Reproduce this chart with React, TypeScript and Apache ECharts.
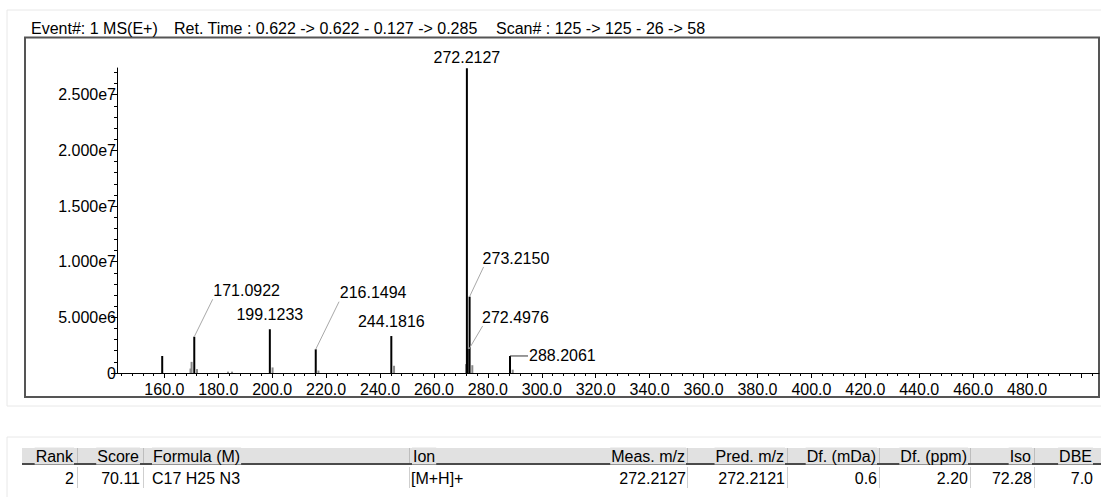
import React, { useEffect, useRef } from 'react';
import * as echarts from 'echarts';

// ---------- data ----------
const headerParts = [
  'Event#: 1 MS(E+)',
  'Ret. Time : 0.622 -> 0.622 - 0.127 -> 0.285',
  'Scan# : 125 -> 125 - 26 -> 58',
];

// main sticks (m/z, intensity)
const peakMz = [159.2, 171.0922, 199.1233, 216.1494, 244.1816, 272.2127, 273.215, 272.4976, 288.2061];
const peakIntensity = [1.53e6, 3.26e6, 3.93e6, 2.13e6, 3.32e6, 2.738e7, 6.86e6, 2.16e6, 1.53e6];

// small satellite sticks
const minorMz = [169.7, 170.1, 172.1, 183.6, 185.1, 200.13, 217.15, 245.19, 271.9, 274.22, 289.21];
const minorIntensity = [0.4e6, 1.0e6, 0.35e6, 0.12e6, 0.12e6, 0.5e6, 0.22e6, 0.65e6, 0.8e6, 0.7e6, 0.3e6];

// labelled peaks
const labeledMz = [171.0922, 199.1233, 216.1494, 244.1816, 272.2127, 273.215, 272.4976, 288.2061];

// axis ticks / labels
const xLabelValues = [160, 180, 200, 220, 240, 260, 280, 300, 320, 340, 360, 380, 400, 420, 440, 460, 480];
const xMajorTickValues = [...xLabelValues, 500];
const yLabelValues = [0, 5e6, 1e7, 1.5e7, 2e7, 2.5e7];

// results table
const tableHeaders = ['Rank', 'Score', 'Formula (M)', 'Ion', 'Meas. m/z', 'Pred. m/z', 'Df. (mDa)', 'Df. (ppm)', 'Iso', 'DBE'];
const tableRow = ['2', '70.11', 'C17 H25 N3', '[M+H]+', '272.2127', '272.2121', '0.6', '2.20', '72.28', '7.0'];

// ---------- layout / style ----------
const FONT = '"Liberation Sans", Arial, sans-serif';
const X_MIN = 142.43;
const X_MAX = 506.68;
const Y_MAX = 2.74e7;

const xMinorTickValues: number[] = [];
for (let v = 144; v <= 504; v += 4) xMinorTickValues.push(v);
const yMinorTickValues: number[] = [];
for (let v = 1e6; v <= 2.7e7; v += 1e6) yMinorTickValues.push(v);

type LabelLayout = { dx: number; dy: number; align: string; line?: number[]; lineColor?: string };
const labelLayout: LabelLayout[] = [
  { dx: 19, dy: -46.7, align: 'left', line: [0, 0, 18.4, -37.4] },
  { dx: 0, dy: -14.3, align: 'center' },
  { dx: 24, dy: -56.6, align: 'left', line: [0, 0, 23.3, -47.6] },
  { dx: 0, dy: -14.3, align: 'center' },
  { dx: 0, dy: -11, align: 'center' },
  { dx: 13, dy: -37.7, align: 'left', line: [0, 0, 14, -29.7] },
  { dx: 14.4, dy: -31, align: 'left', line: [1.4, 0, 15, -23] },
  { dx: 19, dy: 0, align: 'left', line: [0, 0, 18, 0], lineColor: '#333' },
];

const colText = [
  { x: 74, align: 'right' },
  { x: 140, align: 'right' },
  { x: 152, align: 'left' },
  { x: 412, align: 'left' },
  { x: 686, align: 'right' },
  { x: 785, align: 'right' },
  { x: 877, align: 'right' },
  { x: 968, align: 'right' },
  { x: 1032, align: 'right' },
  { x: 1093, align: 'right' },
];
const colSeparators = [77, 143, 409, 687, 787, 879, 970, 1034];

function txt(text: string, x: number, y: number, align: string, extra: any = {}) {
  return {
    type: 'text',
    style: {
      text,
      x,
      y,
      fill: '#000',
      font: `16px ${FONT}`,
      fontSize: 16,
      fontFamily: FONT,
      align,
      textAlign: align,
      verticalAlign: 'middle',
      textVerticalAlign: 'middle',
      ...extra,
    },
  };
}

export default function App() {
  const ref = useRef<HTMLDivElement>(null);

  useEffect(() => {
    document.body.style.margin = '0';
    if (!ref.current) return;
    const chart = echarts.init(ref.current, undefined, { renderer: 'svg' });

    const mainData = peakMz.map((m, i) => [m, peakIntensity[i]]);
    const minorData = minorMz.map((m, i) => [m, minorIntensity[i]]);
    const labelData = labeledMz.map((m, i) => [m, peakIntensity[peakMz.indexOf(m)], i]);

    const stick = (color: string, width: number) => (params: any, api: any) => {
      const x = api.value(0);
      const y = api.value(1);
      const p0 = api.coord([x, 0]);
      const p1 = api.coord([x, y]);
      return {
        type: 'line',
        shape: { x1: p0[0], y1: p0[1], x2: p1[0], y2: p1[1] },
        style: { stroke: color, lineWidth: width },
      };
    };

    const graphics: any[] = [];
    // outer panels
    graphics.push({ type: 'rect', shape: { x: 7, y: 10, width: 1100, height: 396 }, style: { fill: 'none', stroke: '#e8e8e8', lineWidth: 1 } });
    graphics.push({ type: 'line', shape: { x1: 7, y1: 437, x2: 1101, y2: 437 }, style: { stroke: '#e8e8e8', lineWidth: 1 } });
    graphics.push({ type: 'line', shape: { x1: 7, y1: 437, x2: 7, y2: 497 }, style: { stroke: '#e8e8e8', lineWidth: 1 } });
    // chart frame
    graphics.push({ type: 'rect', shape: { x: 25, y: 37.5, width: 1074, height: 359.5 }, style: { fill: 'none', stroke: '#555', lineWidth: 2 } });
    // header
    const headerX = [31, 174, 496];
    headerParts.forEach((h, i) => graphics.push(txt(h, headerX[i], 28, 'left')));

    // table header band
    graphics.push({ type: 'rect', shape: { x: 22, y: 448, width: 1079, height: 15 }, style: { fill: '#e1e1e1' } });
    graphics.push({ type: 'line', shape: { x1: 22, y1: 464, x2: 1101, y2: 464 }, style: { stroke: '#4a4a4a', lineWidth: 2 } });
    colSeparators.forEach((x) => {
      graphics.push({ type: 'line', shape: { x1: x + 0.5, y1: 448, x2: x + 0.5, y2: 463 }, style: { stroke: '#bdbdbd', lineWidth: 1 } });
      graphics.push({ type: 'line', shape: { x1: x + 0.5, y1: 467, x2: x + 0.5, y2: 488 }, style: { stroke: '#cfcfcf', lineWidth: 1 } });
    });
    tableHeaders.forEach((h, i) =>
      graphics.push(
        txt(h, colText[i].x, 456, colText[i].align, {
          backgroundColor: '#e1e1e1',
          padding: [0, 1, 1, 1],
          lineHeight: 16,
        })
      )
    );
    tableRow.forEach((v, i) => graphics.push(txt(v, i === 3 ? 411 : colText[i].x, 478, colText[i].align)));

    const option: any = {
      animation: false,
      grid: { left: 117, right: 2, top: 68, bottom: 124, containLabel: false },
      xAxis: [
        {
          type: 'value',
          min: X_MIN,
          max: X_MAX,
          position: 'bottom',
          axisLine: { show: true, onZero: false, lineStyle: { color: '#000', width: 1 } },
          axisTick: { show: true, customValues: xMajorTickValues, length: 5, lineStyle: { color: '#000' } },
          axisLabel: {
            show: true,
            customValues: xLabelValues,
            formatter: (v: number) => v.toFixed(1),
            fontSize: 16,
            fontFamily: FONT,
            color: '#000',
            margin: 8,
          },
          splitLine: { show: false },
        },
        {
          type: 'value',
          min: X_MIN,
          max: X_MAX,
          position: 'bottom',
          axisLine: { show: false },
          axisTick: { show: true, customValues: xMinorTickValues, length: 3, lineStyle: { color: '#000' } },
          axisLabel: { show: false },
          splitLine: { show: false },
        },
      ],
      yAxis: [
        {
          type: 'value',
          min: 0,
          max: Y_MAX,
          position: 'left',
          axisLine: { show: true, onZero: false, lineStyle: { color: '#000', width: 1 } },
          axisTick: { show: true, customValues: yLabelValues, length: 6, lineStyle: { color: '#000' } },
          axisLabel: {
            show: true,
            customValues: yLabelValues,
            formatter: (v: number) => (v === 0 ? '0' : v.toExponential(3).replace('e+', 'e')),
            fontSize: 16,
            fontFamily: FONT,
            color: '#000',
            margin: 1,
          },
          splitLine: { show: false },
        },
        {
          type: 'value',
          min: 0,
          max: Y_MAX,
          position: 'left',
          axisLine: { show: false },
          axisTick: { show: true, customValues: yMinorTickValues, length: 3, lineStyle: { color: '#000' } },
          axisLabel: { show: false },
          splitLine: { show: false },
        },
      ],
      series: [
        {
          type: 'custom',
          name: 'minor',
          clip: false,
          xAxisIndex: 0,
          yAxisIndex: 0,
          data: minorData,
          renderItem: stick('#8a8a8a', 2),
        },
        {
          type: 'custom',
          name: 'peaks',
          clip: false,
          xAxisIndex: 0,
          yAxisIndex: 0,
          data: mainData,
          renderItem: stick('#000', 2),
        },
        {
          type: 'custom',
          name: 'labels',
          clip: false,
          xAxisIndex: 0,
          yAxisIndex: 0,
          data: labelData,
          z: 5,
          renderItem: (params: any, api: any) => {
            const x = api.value(0);
            const y = api.value(1);
            const idx = api.value(2);
            const lay = labelLayout[idx];
            const top = api.coord([x, y]);
            const children: any[] = [];
            if (lay.line) {
              children.push({
                type: 'line',
                shape: {
                  x1: top[0] + lay.line[0],
                  y1: top[1] + lay.line[1],
                  x2: top[0] + lay.line[2],
                  y2: top[1] + lay.line[3],
                },
                style: { stroke: lay.lineColor || '#a8a8a8', lineWidth: 1 },
              });
            }
            children.push({
              type: 'text',
              style: {
                text: x.toFixed(4),
                x: top[0] + lay.dx,
                y: top[1] + lay.dy,
                fill: '#000',
                font: `16px ${FONT}`,
                fontSize: 16,
                fontFamily: FONT,
                align: lay.align,
                textAlign: lay.align,
                verticalAlign: 'middle',
                textVerticalAlign: 'middle',
              },
            });
            return { type: 'group', children };
          },
        },
      ],
      graphic: graphics,
    };

    chart.setOption(option);
    return () => chart.dispose();
  }, []);

  return <div ref={ref} style={{ width: 1101, height: 497 }} />;
}
